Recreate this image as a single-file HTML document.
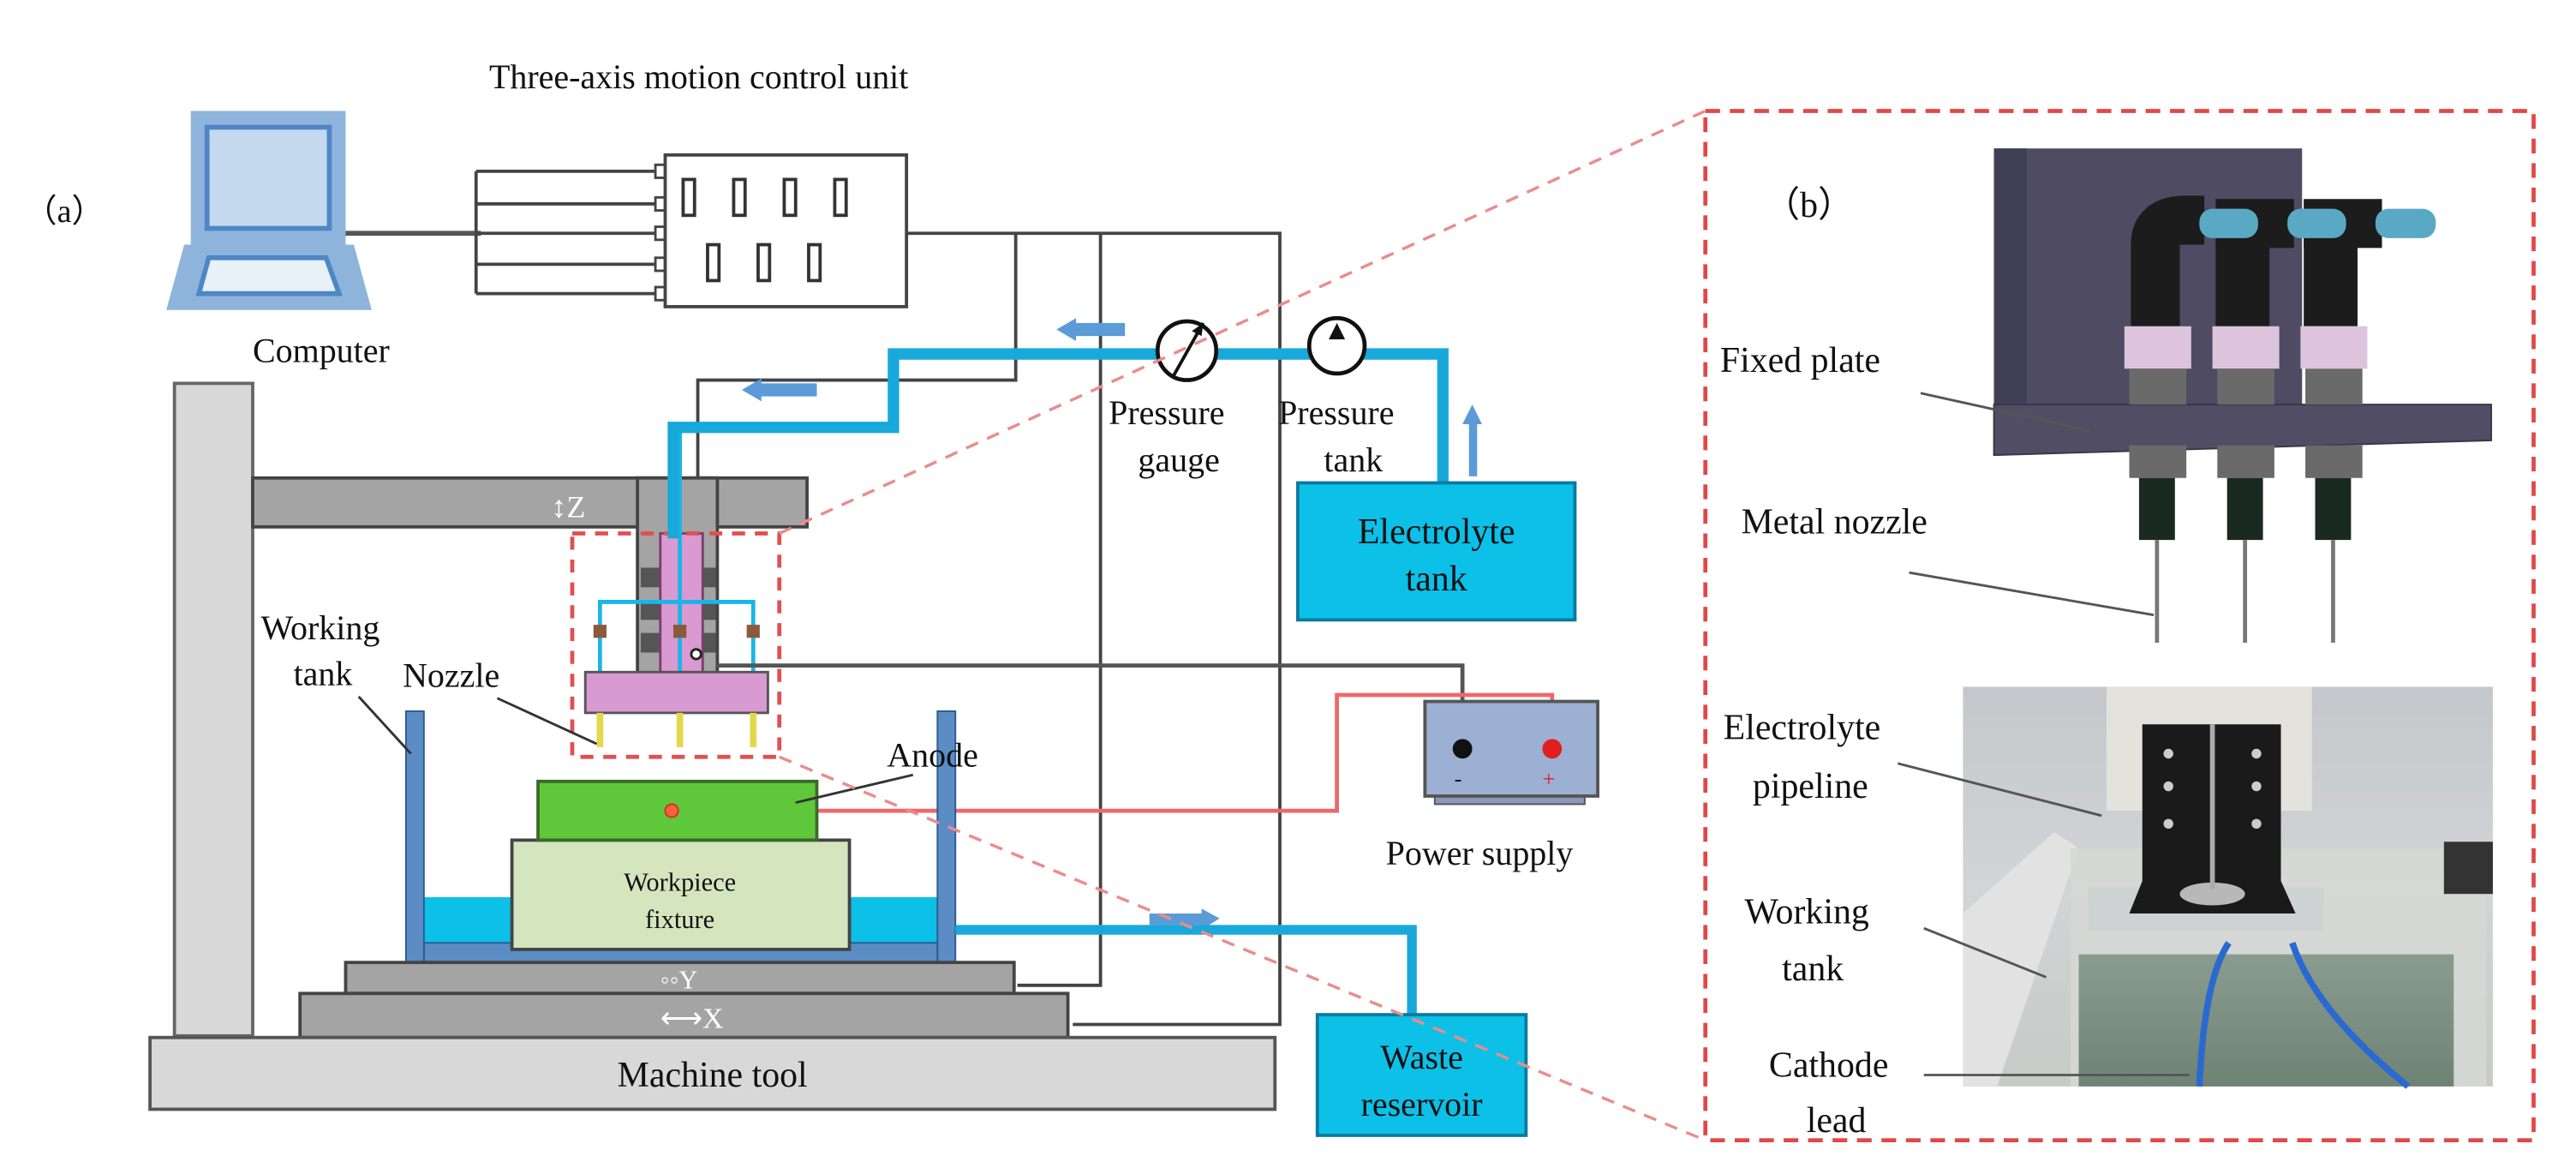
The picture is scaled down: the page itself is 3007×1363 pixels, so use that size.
<!DOCTYPE html>
<html><head><meta charset="utf-8"><style>
html,body{margin:0;padding:0;background:#fff}
svg{display:block}
text{font-family:"Liberation Serif",serif;fill:#111}
</style></head><body>
<svg width="3007" height="1363" viewBox="0 0 1580 716" preserveAspectRatio="none" xmlns="http://www.w3.org/2000/svg">
<defs>
<linearGradient id="ph" x1="0" y1="0" x2="0" y2="1">
<stop offset="0" stop-color="#c4c7cb"/><stop offset="0.5" stop-color="#d2d4d6"/><stop offset="1" stop-color="#c8cac8"/>
</linearGradient>
<linearGradient id="wat" x1="0" y1="0" x2="0" y2="1">
<stop offset="0" stop-color="#8a9c90"/><stop offset="1" stop-color="#6f8276"/>
</linearGradient>
</defs>
<rect width="1580" height="716" fill="#fff"/>

<text x="15" y="136" font-size="20">（a）</text>
<text x="300" y="54" font-size="21">Three-axis motion control unit</text>

<!-- computer -->
<rect x="117" y="68" width="95" height="82" fill="#8fb4dc"/>
<rect x="127" y="78" width="75" height="62" fill="#c4d8ee" stroke="#4f86c6" stroke-width="3"/>
<polygon points="113,150 217,150 228,190 102,190" fill="#8fb4dc"/>
<polygon points="128,158 200,158 208,180 122,180" fill="#e8f0f8" stroke="#4f86c6" stroke-width="3"/>
<text x="155" y="222" font-size="21">Computer</text>

<line x1="212" y1="143" x2="295" y2="143" stroke="#555" stroke-width="3"/>
<g stroke="#444" stroke-width="2" fill="none">
<path d="M292,105 H405 M292,125 H405 M292,143 H405 M292,162 H405 M292,180 H405 M292,105 V180"/>
</g>
<g fill="#fff" stroke="#444" stroke-width="1.5">
<rect x="402" y="101" width="6" height="8"/><rect x="402" y="121" width="6" height="8"/><rect x="402" y="139" width="6" height="8"/><rect x="402" y="158" width="6" height="8"/><rect x="402" y="176" width="6" height="8"/>
</g>
<rect x="408" y="95" width="148" height="93" fill="#fff" stroke="#444" stroke-width="2"/>
<g fill="#fff" stroke="#333" stroke-width="2">
<rect x="419" y="110" width="7" height="22"/><rect x="450" y="110" width="7" height="22"/><rect x="481" y="110" width="7" height="22"/><rect x="512" y="110" width="7" height="22"/>
<rect x="434" y="150" width="7" height="22"/><rect x="465" y="150" width="7" height="22"/><rect x="496" y="150" width="7" height="22"/>
</g>
<g stroke="#444" stroke-width="2" fill="none">
<path d="M556,143 H785 V628 H658"/>
<path d="M623,143 V233 H428 V330"/>
<path d="M675,143 V604 H624"/>
</g>

<rect x="107" y="235" width="48" height="400" fill="#d8d8d8" stroke="#666" stroke-width="2"/>
<rect x="155" y="293" width="340" height="30" fill="#a4a4a4" stroke="#444" stroke-width="2"/>
<rect x="391" y="293" width="49" height="120" fill="#a4a4a4" stroke="#444" stroke-width="2"/>
<text x="338" y="317" font-size="19" style="fill:#fff">↕Z</text>
<g fill="#555"><rect x="393" y="348" width="12" height="12"/><rect x="393" y="368" width="12" height="12"/><rect x="393" y="388" width="12" height="12"/>
<rect x="427" y="348" width="12" height="12"/><rect x="427" y="368" width="12" height="12"/><rect x="427" y="388" width="12" height="12"/></g>
<rect x="405" y="327" width="26" height="86" fill="#d89ad0" stroke="#7a3f6e" stroke-width="1.5"/>
<g stroke="#1ab5e6" stroke-width="2.5" fill="none">
<path d="M417,260 V412 M368,412 V369 H462 V412"/>
</g>
<rect x="359" y="412" width="112" height="25" fill="#d89ad0" stroke="#555" stroke-width="1.5"/>
<g fill="#8b5a3c"><rect x="364" y="383" width="8" height="8"/><rect x="413" y="383" width="8" height="8"/><rect x="458" y="383" width="8" height="8"/></g>
<circle cx="427" cy="401" r="3" fill="#fff" stroke="#222" stroke-width="1.5"/>
<g stroke="#e2d84a" stroke-width="4"><line x1="368" y1="437" x2="368" y2="458"/><line x1="417" y1="437" x2="417" y2="458"/><line x1="462" y1="437" x2="462" y2="458"/></g>
<rect x="351" y="327" width="127" height="137" fill="none" stroke="#e05050" stroke-width="2.5" stroke-dasharray="8,6"/>

<g stroke="#18a9da" stroke-width="7" fill="none">
<path d="M413,330 V262 H548 V217 H885 V296"/>
</g>
<circle cx="728" cy="215" r="18" fill="#fff" stroke="#111" stroke-width="2.5"/>
<line x1="720" y1="230" x2="738" y2="198" stroke="#111" stroke-width="2"/>
<polygon points="738,198 731,203 737,206" fill="#111"/>
<circle cx="820" cy="212" r="17" fill="#fff" stroke="#111" stroke-width="2.5"/>
<polygon points="820,198 815,208 825,208" fill="#111"/>
<g fill="#5a9bd8"><rect x="658" y="198" width="32" height="8"/><polygon points="648,202 660,195 660,209"/>
<rect x="465" y="235" width="36" height="8"/><polygon points="455,239 467,232 467,246"/>
<rect x="901" y="258" width="5" height="34"/><polygon points="903,248 897,260 909,260"/>
<rect x="705" y="560" width="34" height="7"/><polygon points="748,563 737,557 737,570"/></g>
<text x="680" y="260" font-size="21">Pressure</text>
<text x="698" y="289" font-size="21">gauge</text>
<text x="784" y="260" font-size="21">Pressure</text>
<text x="812" y="289" font-size="21">tank</text>

<rect x="796" y="296" width="170" height="84" fill="#0cc0e8" stroke="#0b7aa0" stroke-width="2"/>
<text x="881" y="333" font-size="22" text-anchor="middle">Electrolyte</text>
<text x="881" y="362" font-size="22" text-anchor="middle">tank</text>

<path d="M440,408 H897 V455" stroke="#555" stroke-width="2.5" fill="none"/>
<path d="M412,497 H820 V426 H952 V455" stroke="#ef6868" stroke-width="2.5" fill="none"/>
<rect x="880" y="485" width="92" height="8" fill="#8899bb" stroke="#555" stroke-width="1"/>
<rect x="874" y="430" width="106" height="58" fill="#9cb0d4" stroke="#555" stroke-width="2"/>
<circle cx="897" cy="459" r="6" fill="#111"/><circle cx="952" cy="459" r="6" fill="#e02020"/>
<text x="892" y="482" font-size="14">-</text>
<text x="946" y="482" font-size="14" style="fill:#e02020">+</text>
<text x="850" y="530" font-size="21">Power supply</text>

<rect x="260" y="550" width="315" height="30" fill="#0cc0e8"/>
<rect x="260" y="578" width="315" height="12" fill="#5b8cc4" stroke="#2a5a90" stroke-width="1"/>
<rect x="249" y="436" width="11" height="154" fill="#5b8cc4" stroke="#2a5a90" stroke-width="1"/>
<rect x="575" y="436" width="11" height="154" fill="#5b8cc4" stroke="#2a5a90" stroke-width="1"/>
<rect x="314" y="515" width="207" height="67" fill="#d5e6bf" stroke="#444" stroke-width="2"/>
<text x="417" y="546" font-size="16" text-anchor="middle">Workpiece</text>
<text x="417" y="569" font-size="16" text-anchor="middle">fixture</text>
<rect x="330" y="479" width="171" height="36" fill="#5fc83a" stroke="#3a6a2a" stroke-width="2"/>
<circle cx="412" cy="497" r="4" fill="#ff6040" stroke="#d03020" stroke-width="1"/>
<path d="M586,570 H866 V622" stroke="#18a9da" stroke-width="6" fill="none"/>
<rect x="212" y="590" width="410" height="19" fill="#a4a4a4" stroke="#444" stroke-width="2"/>
<text x="405" y="606" font-size="16" style="fill:#fff">◦◦Y</text>
<rect x="184" y="609" width="471" height="27" fill="#a4a4a4" stroke="#444" stroke-width="2"/>
<text x="405" y="630" font-size="18" style="fill:#fff">⟷X</text>
<rect x="92" y="636" width="690" height="44" fill="#d8d8d8" stroke="#555" stroke-width="2"/>
<text x="437" y="666" font-size="22" text-anchor="middle">Machine tool</text>

<rect x="808" y="622" width="128" height="74" fill="#0cc0e8" stroke="#0b7aa0" stroke-width="2"/>
<text x="872" y="655" font-size="21" text-anchor="middle">Waste</text>
<text x="872" y="684" font-size="21" text-anchor="middle">reservoir</text>

<text x="160" y="392" font-size="21">Working</text>
<text x="180" y="420" font-size="21">tank</text>
<line x1="220" y1="427" x2="252" y2="462" stroke="#333" stroke-width="1.5"/>
<text x="247" y="421" font-size="21">Nozzle</text>
<line x1="305" y1="428" x2="366" y2="456" stroke="#333" stroke-width="1.5"/>
<text x="544" y="470" font-size="21">Anode</text>
<line x1="560" y1="475" x2="488" y2="492" stroke="#333" stroke-width="1.5"/>

<!-- zoom dashed lines -->
<g stroke="#ea8c8c" stroke-width="1.8" stroke-dasharray="8,6" fill="none">
<line x1="478" y1="327" x2="1046" y2="68"/>
<line x1="478" y1="464" x2="1046" y2="699"/>
</g>
<rect x="1046" y="68" width="508" height="631" fill="none" stroke="#e04848" stroke-width="2.5" stroke-dasharray="9,6"/>

<!-- (b) CAD -->
<text x="1082" y="133" font-size="22">（b）</text>
<rect x="1223" y="91" width="189" height="170" fill="#4e4b62"/>
<rect x="1223" y="91" width="20" height="181" fill="#413f54"/>
<polygon points="1223,248 1528,248 1528,270 1223,279" fill="#504d65" stroke="#38364a" stroke-width="1"/>
<!-- elbows -->
<path d="M1322,200 V150 Q1322,135 1340,135 H1352" stroke="#1c1c1c" stroke-width="30" fill="none"/>
<rect x="1359" y="122" width="48" height="30" fill="#1c1c1c"/>
<rect x="1413" y="122" width="48" height="30" fill="#1c1c1c"/>
<rect x="1359" y="140" width="33" height="60" fill="#1c1c1c"/>
<rect x="1413" y="140" width="33" height="60" fill="#1c1c1c"/>
<rect x="1349" y="128" width="36" height="18" rx="8" fill="#5aa9c4"/>
<rect x="1403" y="128" width="36" height="18" rx="8" fill="#5aa9c4"/>
<rect x="1457" y="128" width="37" height="18" rx="8" fill="#5aa9c4"/>
<g fill="#dcc4dc"><rect x="1303" y="200" width="41" height="26"/><rect x="1357" y="200" width="41" height="26"/><rect x="1411" y="200" width="41" height="26"/></g>
<g fill="#6a6a6a"><rect x="1306" y="226" width="35" height="22"/><rect x="1360" y="226" width="35" height="22"/><rect x="1414" y="226" width="35" height="22"/>
<rect x="1306" y="273" width="35" height="20"/><rect x="1360" y="273" width="35" height="20"/><rect x="1414" y="273" width="35" height="20"/></g>
<g fill="#1a2a22"><rect x="1312" y="293" width="22" height="38"/><rect x="1366" y="293" width="22" height="38"/><rect x="1420" y="293" width="22" height="38"/></g>
<g stroke="#777" stroke-width="2.5"><line x1="1323" y1="331" x2="1323" y2="394"/><line x1="1377" y1="331" x2="1377" y2="394"/><line x1="1431" y1="331" x2="1431" y2="394"/></g>
<text x="1055" y="228" font-size="22">Fixed plate</text>
<line x1="1178" y1="241" x2="1282" y2="264" stroke="#555" stroke-width="1.5"/>
<text x="1068" y="327" font-size="22">Metal nozzle</text>
<line x1="1171" y1="351" x2="1321" y2="377" stroke="#555" stroke-width="1.5"/>

<!-- photo -->
<rect x="1204" y="421" width="325" height="245" fill="url(#ph)"/>
<rect x="1292" y="421" width="126" height="76" fill="#e4e2dc"/>
<polygon points="1204,560 1260,510 1275,520 1225,666 1204,666" fill="#e2e2e2"/>
<rect x="1270" y="520" width="255" height="146" fill="#d6d8d4" opacity="0.8"/>
<rect x="1275" y="585" width="230" height="81" fill="url(#wat)"/>
<rect x="1281" y="544" width="144" height="27" fill="#cfd2d2"/>
<polygon points="1314,444 1399,444 1399,540 1408,560 1306,560 1314,540" fill="#1a1a1a"/>
<ellipse cx="1357" cy="548" rx="20" ry="7" fill="#b8b8b8"/>
<line x1="1357" y1="444" x2="1357" y2="545" stroke="#aaa" stroke-width="3"/>
<g fill="#ccc"><circle cx="1330" cy="462" r="3"/><circle cx="1330" cy="482" r="3"/><circle cx="1330" cy="505" r="3"/><circle cx="1384" cy="462" r="3"/><circle cx="1384" cy="482" r="3"/><circle cx="1384" cy="505" r="3"/></g>
<path d="M1367,578 Q1352,600 1349,666" stroke="#2a6ad0" stroke-width="4" fill="none"/>
<path d="M1406,578 Q1420,620 1477,666" stroke="#2a6ad0" stroke-width="4" fill="none"/>
<rect x="1499" y="516" width="30" height="32" fill="#333"/>
<text x="1057" y="453" font-size="22">Electrolyte</text>
<text x="1075" y="489" font-size="22">pipeline</text>
<line x1="1164" y1="468" x2="1289" y2="500" stroke="#555" stroke-width="1.5"/>
<text x="1070" y="566" font-size="22">Working</text>
<text x="1093" y="601" font-size="22">tank</text>
<line x1="1180" y1="569" x2="1255" y2="599" stroke="#555" stroke-width="1.5"/>
<text x="1085" y="660" font-size="22">Cathode</text>
<text x="1108" y="694" font-size="22">lead</text>
<line x1="1180" y1="659" x2="1343" y2="659" stroke="#555" stroke-width="1.5"/>
</svg>
</body></html>
